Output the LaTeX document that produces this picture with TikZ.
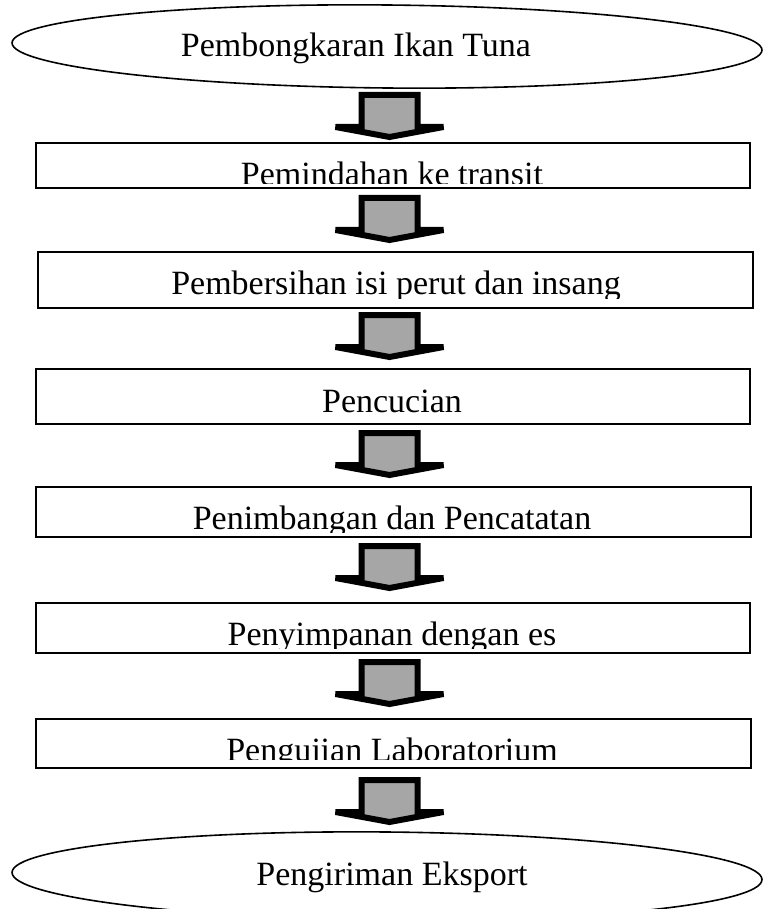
\documentclass[tikz,border=0pt]{standalone}
\usepackage{fontspec}
\setmainfont{Liberation Serif}
\usetikzlibrary{shapes.geometric}
\definecolor{arrowgray}{RGB}{166,166,166}
\begin{document}
\begin{tikzpicture}[x=1pt,y=-1pt,
  flowbox/.style={draw=black, line width=1.5pt, rectangle, inner sep=0pt},
  flowoval/.style={draw=black, line width=1.6pt, ellipse, inner sep=0pt,
     minimum width=750pt, minimum height=83pt, rotate=-0.55},
  flowtext/.style={anchor=base, inner sep=0pt, font=\fontsize{34}{40}\selectfont},
  blockarrow/.style={draw=black, fill=arrowgray, line width=6pt, miter limit=10}]
\useasboundingbox (0,0) rectangle (764,909);
\clip (0,0) rectangle (764,909);
\fill[white] (0,0) rectangle (764,909);

% ovals
\node[flowoval] (e1) at (387,46.5) {};
\node[flowtext] (te1) at (356,57) {Pembongkaran Ikan Tuna};
\node[flowoval, minimum height=88pt] (e2) at (387,876) {};
\node[flowtext] (te2) at (392,885) {Pengiriman Eksport};

% boxes
\node[flowbox, minimum width=714pt, minimum height=45pt] (b1) at (393,165.5) {};
\node[flowbox, minimum width=715pt, minimum height=56pt] (b2) at (395.5,280) {};
\node[flowbox, minimum width=714pt, minimum height=55pt] (b3) at (393,396.5) {};
\node[flowbox, minimum width=715pt, minimum height=50pt] (b4) at (393.5,512) {};
\node[flowbox, minimum width=714pt, minimum height=50pt] (b5) at (393,628) {};
\node[flowbox, minimum width=715pt, minimum height=49pt] (b6) at (393.5,743.5) {};

% box texts, clipped at the bottom like the text frames
\begin{scope}
  \clip (36,143) rectangle (751,184);
  \node[flowtext] (t1) at (392,186) {Pemindahan ke transit};
\end{scope}
\begin{scope}
  \clip (38,252) rectangle (753,298);
  \node[flowtext] (t2) at (396,294) {Pembersihan isi perut dan insang};
\end{scope}
\begin{scope}
  \clip (36,369) rectangle (750,420);
  \node[flowtext] (t3) at (392,412) {Pencucian};
\end{scope}
\begin{scope}
  \clip (36,487) rectangle (751,532);
  \node[flowtext] (t4) at (392,529) {Penimbangan dan Pencatatan};
\end{scope}
\begin{scope}
  \clip (36,603) rectangle (750,648);
  \node[flowtext] (t5) at (392,645) {Penyimpanan dengan es};
\end{scope}
\begin{scope}
  \clip (36,719) rectangle (751,759);
  \node[flowtext] (t6) at (392,761) {Pengujian Laboratorium};
\end{scope}

% block arrows between the steps
\foreach \n/\ty in {a1/92,a2/195,a3/312,a4/430,a5/543,a6/659,a7/777}{
  \coordinate (\n) at (389.5,\ty);
}
\foreach \n in {a1,a2,a3,a4,a5,a6,a7}{
  \draw[blockarrow, shift={(\n)}]
    (-28,3) -- (28,3) -- (28,35) -- (54,35) -- (0,45) -- (-54,35) -- (-28,35) -- cycle;
}
\end{tikzpicture}
\end{document}
